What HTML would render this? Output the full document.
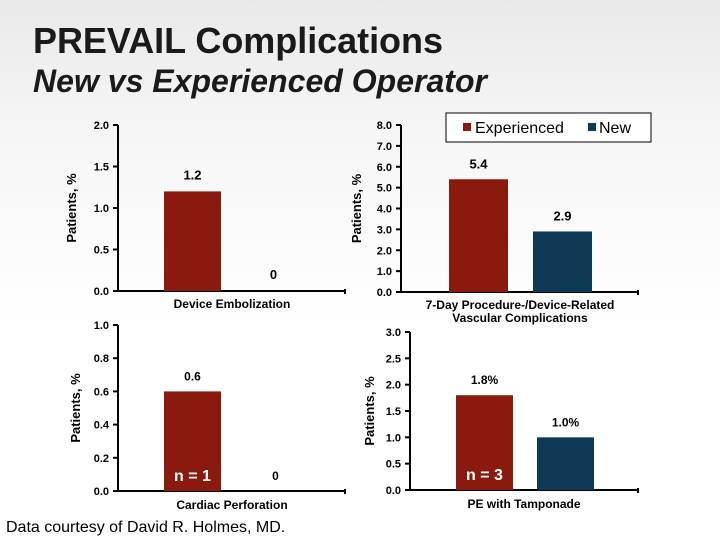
<!DOCTYPE html>
<html><head><meta charset="utf-8"><style>
html,body{margin:0;padding:0}
body{width:720px;height:540px;overflow:hidden;background:linear-gradient(180deg,#e9e9e9 0%,#f6f6f6 25%,#fff 60%,#fff 100%);font-family:"Liberation Sans",sans-serif}
svg{display:block}
</style></head><body>
<svg id="s" width="720" height="540" xmlns="http://www.w3.org/2000/svg" font-family="Liberation Sans, sans-serif">
<text x="33" y="53" font-size="36" font-weight="bold" fill="#1a1a1a" textLength="410">PREVAIL Complications</text>
<text x="33" y="92" font-size="32" font-weight="bold" font-style="italic" fill="#1a1a1a" textLength="454">New vs Experienced Operator</text>
<g>
<rect x="446" y="113" width="205" height="29" fill="#fff" stroke="#000" stroke-width="1"/>
<rect x="463" y="123" width="8" height="8" fill="#8b1a0e"/>
<text x="475" y="133" font-size="16" fill="#000">Experienced</text>
<rect x="588" y="123" width="8" height="8" fill="#0e3a55"/>
<text x="599" y="133" font-size="16" fill="#000">New</text>
</g>
<text x="6" y="532" font-size="16" fill="#000">Data courtesy of David R. Holmes, MD.</text>
</svg>
<script>
const ticks1=["0.0","0.5","1.0","1.5","2.0"];
const vals1=[1.2,0];
const labels1=["1.2","0"];
const ticks2=["0.0","1.0","2.0","3.0","4.0","5.0","6.0","7.0","8.0"];
const vals2=[5.4,2.9];
const labels2=["5.4","2.9"];
const ticks3=["0.0","0.2","0.4","0.6","0.8","1.0"];
const vals3=[0.6,0];
const labels3=["0.6","0"];
const ticks4=["0.0","0.5","1.0","1.5","2.0","2.5","3.0"];
const vals4=[1.8,1.0];
const labels4=["1.8%","1.0%"];
const NS="http://www.w3.org/2000/svg";
const svg=document.getElementById('s');
function el(t,a,txt){const e=document.createElementNS(NS,t);for(const k in a)e.setAttribute(k,a[k]);if(txt!==undefined)e.textContent=txt;svg.appendChild(e);return e;}
const colors=["#8b1a0e","#0e3a55"];
function chart(c){
  const max=parseFloat(c.ticks[c.ticks.length-1]);
  const y=v=>c.y0-(v/max)*(c.y0-c.yTop);
  const ax=el('line',{x1:c.x0,y1:c.yTop,x2:c.x0,y2:c.y0+1,stroke:'#000','stroke-width':2});
  
  
  const bx=el('line',{x1:c.x0,y1:c.y0,x2:c.x1,y2:c.y0,stroke:'#000','stroke-width':2});
  
  
  el('line',{x1:c.x1,y1:c.y0-2,x2:c.x1,y2:c.y0+3,stroke:'#000','stroke-width':2});
  c.ticks.forEach(t=>{
    const v=parseFloat(t),yy=y(v);
    el('line',{x1:c.x0-5,y1:yy,x2:c.x0,y2:yy,stroke:'#000','stroke-width':2});
    const tl=el('text',{x:c.x0-9,y:yy+4,'font-size':11,'font-weight':'bold','text-anchor':'end',fill:'#000'},t);
    
    
  });
  c.vals.forEach((v,i)=>{
    const bxp=c.bars[i];
    if(v>0){
      const r=el('rect',{x:bxp,y:y(v),width:c.bw,height:c.y0-y(v),fill:colors[i]});
      
      
    }
    const lt=el('text',{x:bxp+c.bw/2,y:(v>0?y(v):c.y0)-c.lgap,'font-size':c.lfs,'font-weight':'bold','text-anchor':'middle',fill:'#000'},c.labels[i]);
    
    
  });
  const cat=c.cat;cat.forEach((line,i)=>{
    const ct=el('text',{x:c.catX,y:c.catY+i*13,'font-size':12,'font-weight':'bold','text-anchor':'middle',fill:'#000'},line);
    
    
  });
  const yt=el('text',{transform:`translate(${c.ytX},${(c.yTop+c.y0)/2}) rotate(-90)`,'font-size':13,'font-weight':'bold','text-anchor':'middle',fill:'#000'},'Patients, %');
  
  
  if(c.n){
    const nt=el('text',{x:c.bars[0]+c.bw/2,y:c.y0-10,'font-size':16,'font-weight':'bold','text-anchor':'middle',fill:'#fff'},c.n);
    
    
  }
}
chart({id:'device-embolization',ticks:ticks1,vals:vals1,labels:labels1,x0:118,x1:345,yTop:125,y0:291,bars:[164,245],bw:57,lgap:12,lfs:13,cat:['Device Embolization'],catX:232,catY:308,ytX:76});
chart({id:'vascular-complications',ticks:ticks2,vals:vals2,labels:labels2,x0:401,x1:638,yTop:125,y0:292,bars:[449,533],bw:59,lgap:11,lfs:13,cat:['7-Day Procedure-/Device-Related','Vascular Complications'],catX:520,catY:309,ytX:361});
chart({id:'cardiac-perforation',ticks:ticks3,vals:vals3,labels:labels3,x0:118,x1:345,yTop:325,y0:491,bars:[164,247],bw:57,lgap:11,lfs:12,cat:['Cardiac Perforation'],catX:232,catY:509,ytX:80,n:'n = 1'});
chart({id:'pe-tamponade',ticks:ticks4,vals:vals4,labels:labels4,x0:410,x1:638,yTop:332,y0:490,bars:[456,537],bw:57,lgap:11,lfs:12,cat:['PE with Tamponade'],catX:524,catY:508,ytX:374,n:'n = 3'});
</script>
</body></html>
